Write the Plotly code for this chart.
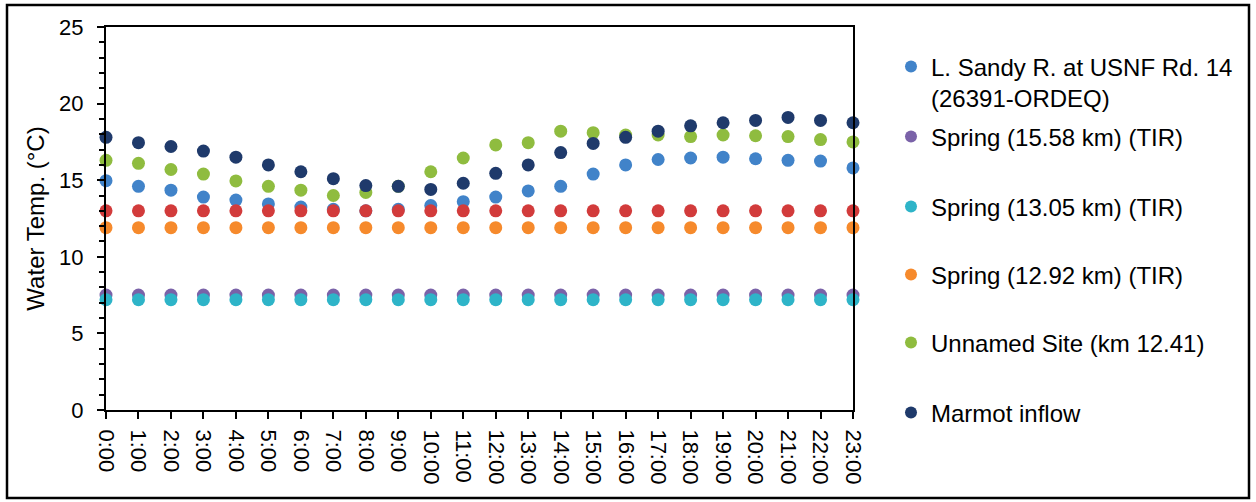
import plotly.graph_objects as go

hours = list(range(24))
hour_labels = [f"{h}:00" for h in hours]

sandy = [14.97, 14.6, 14.35, 13.9, 13.7, 13.45, 13.25, 13.1, 13.0, 13.1, 13.35, 13.6,
         13.9, 14.3, 14.6, 15.4, 16.0, 16.35, 16.45, 16.5, 16.4, 16.3, 16.25, 15.8]
spring_1558 = [7.5] * 24
spring_1305 = [7.2] * 24
spring_1292 = [11.9] * 24
unnamed = [16.3, 16.1, 15.7, 15.4, 14.95, 14.6, 14.35, 14.0, 14.2, 14.6, 15.55, 16.45,
           17.3, 17.45, 18.2, 18.1, 17.95, 17.95, 17.85, 17.95, 17.9, 17.85, 17.65, 17.5]
marmot = [17.8, 17.45, 17.2, 16.9, 16.5, 16.0, 15.55, 15.1, 14.65, 14.6, 14.4, 14.8,
          15.45, 16.0, 16.8, 17.4, 17.8, 18.2, 18.55, 18.75, 18.9, 19.1, 18.9, 18.75]
unlisted = [13.0] * 24

series = [
    ("L. Sandy R. at USNF Rd. 14<br>(26391-ORDEQ)", sandy, "#4183C9", "legend"),
    ("Spring (15.58 km) (TIR)", spring_1558, "#7A62A8", "legend2"),
    ("Spring (13.05 km) (TIR)", spring_1305, "#2EB4C8", "legend3"),
    ("Spring (12.92 km) (TIR)", spring_1292, "#F68A2C", "legend4"),
    ("Unnamed Site (km 12.41)", unnamed, "#8FBC3F", "legend5"),
    ("Marmot inflow", marmot, "#1F3A6B", "legend6"),
]

FONT = "Liberation Sans, Arial, sans-serif"
fig = go.Figure()
for name, vals, color, leg in series:
    fig.add_trace(go.Scatter(x=hours, y=vals, mode="markers", name=name, legend=leg,
                             marker=dict(size=13, color=color), cliponaxis=False))
fig.add_trace(go.Scatter(x=hours, y=unlisted, mode="markers", showlegend=False,
                         marker=dict(size=13, color="#D23B3B"), cliponaxis=False))

L, R, T, B = 106, 853, 27, 410
pw, ph = R - L, B - T
def px(x):
    return (x - L) / pw
def py(y):
    return (B - y) / ph

leg_x = px(891)
leg_centers = [82.5, 137, 207, 275, 343, 413]
legend_common = dict(xanchor="left", yanchor="middle", bgcolor="rgba(0,0,0,0)",
                     font=dict(family=FONT, size=24, color="#000"), valign="top",
                     itemsizing="constant", itemwidth=30)
layout_legends = {}
for i, c in enumerate(leg_centers):
    key = "legend" if i == 0 else f"legend{i+1}"
    layout_legends[key] = dict(x=leg_x, y=py(c), **legend_common)

fig.update_layout(
    width=1256, height=502,
    margin=dict(l=L, r=1256 - R, t=T, b=502 - B),
    paper_bgcolor="white", plot_bgcolor="white",
    font=dict(family=FONT, size=22, color="#000"),
    showlegend=True,
    **layout_legends,
)
fig.update_xaxes(range=[0, 23], tickmode="array", tickvals=hours, ticktext=hour_labels,
                 tickangle=90, ticks="outside", ticklen=7, tickwidth=2, tickcolor="#000",
                 showline=True, linewidth=2, linecolor="#000", mirror=True,
                 showgrid=False, zeroline=False, tickfont=dict(size=22),
                 ticklabelstandoff=6)
fig.update_yaxes(range=[0, 25], dtick=5, ticks="outside", ticklen=7, tickwidth=2,
                 tickcolor="#000", showline=True, linewidth=2, linecolor="#000",
                 mirror=True, showgrid=False, zeroline=False, tickfont=dict(size=22),
                 ticklabelstandoff=9,
                 minor=dict(dtick=1, ticks="outside", ticklen=5, tickwidth=2, tickcolor="#000"),
                 title=dict(text="Water Temp. (°C)", font=dict(size=24), standoff=8))
fig.add_shape(type="rect", xref="paper", yref="paper",
              x0=px(7), x1=px(1249), y0=py(498), y1=py(5),
              line=dict(color="#000", width=2.5), fillcolor="rgba(0,0,0,0)", layer="above")
fig.write_html("out.html")
